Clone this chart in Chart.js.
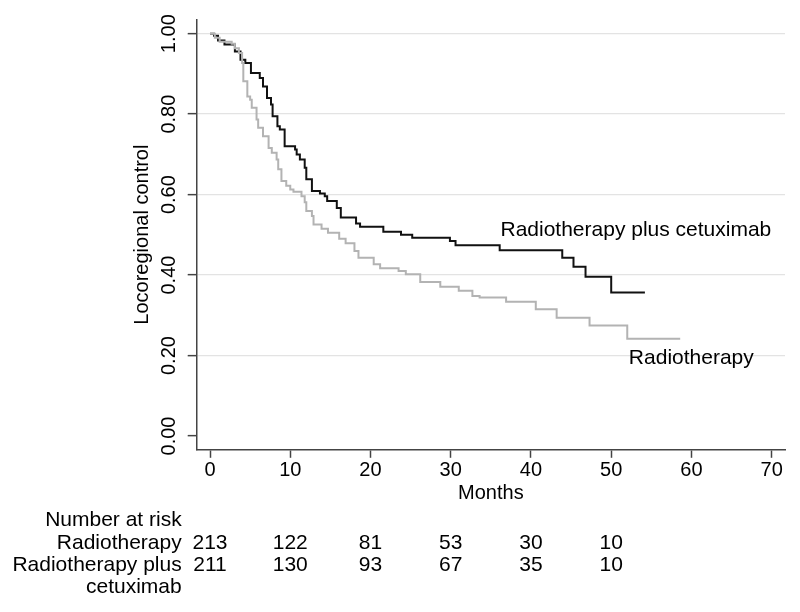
<!DOCTYPE html>
<html>
<head>
<meta charset="utf-8">
<script src="https://cdn.jsdelivr.net/npm/chart.js@4.4.1/dist/chart.umd.min.js"></script>
<style>
  html, body { margin: 0; padding: 0; background: #fff; }
  canvas { display: block; }
</style>
</head>
<body>
<canvas id="km" width="800" height="612"></canvas>
<script>
// Kaplan-Meier estimates (month, proportion)
const radioMonths = [0, 0.6, 1.2, 2.7, 3.1, 3.6, 4.0, 4.15, 4.65, 5.0, 5.2, 5.8, 6.0, 6.6, 7.3, 7.7,
                     8.3, 8.5, 8.9, 9.5, 10.0, 10.4, 11.4, 11.8, 12.0, 12.7, 12.9, 13.9, 14.7, 16.1,
                     16.9, 18.0, 18.5, 20.4, 21.2, 23.5, 24.4, 26.2, 28.7, 31.0, 32.7, 33.6, 36.9,
                     40.6, 43.2, 47.3, 52.0, 58.6];
const radioControl = [1.0, 0.99, 0.98, 0.975, 0.964, 0.952, 0.927, 0.882, 0.844, 0.836, 0.816, 0.787, 0.766, 0.745, 0.716, 0.704,
                      0.687, 0.663, 0.634, 0.622, 0.613, 0.607, 0.596, 0.581, 0.559, 0.547, 0.526, 0.515, 0.505, 0.49,
                      0.479, 0.46, 0.443, 0.427, 0.417, 0.41, 0.402, 0.383, 0.371, 0.361, 0.348, 0.344, 0.334,
                      0.315, 0.294, 0.275, 0.242, 0.242];

const cetuxMonths = [0, 0.5, 1.0, 1.8, 3.1, 3.8, 4.4, 5.1, 6.2, 6.6, 7.1, 7.6, 7.8, 8.4, 8.7, 9.3,
                     10.6, 10.8, 11.2, 11.8, 12.0, 12.7, 13.7, 14.3, 14.6, 15.8, 16.3, 18.2, 18.7,
                     21.6, 23.8, 25.2, 29.9, 30.6, 36.1, 43.9, 45.3, 46.8, 50.0, 54.2];
const cetuxControl = [1.0, 0.995, 0.983, 0.973, 0.956, 0.935, 0.927, 0.902, 0.89, 0.869, 0.84, 0.824, 0.795, 0.77, 0.762, 0.72,
                      0.712, 0.70, 0.687, 0.667, 0.638, 0.609, 0.603, 0.596, 0.584, 0.567, 0.543, 0.528, 0.52,
                      0.508, 0.50, 0.493, 0.485, 0.474, 0.462, 0.443, 0.421, 0.396, 0.357, 0.357];

const xTicks = [0, 10, 20, 30, 40, 50, 60, 70];
const yTicks = [0, 0.2, 0.4, 0.6, 0.8, 1.0];

// number at risk table
const riskMonths = [0, 10, 20, 30, 40, 50];
const riskRadio = [213, 122, 81, 53, 30, 10];
const riskCetux = [211, 130, 93, 67, 35, 10];

const FONT = '"Liberation Sans", Arial, Helvetica, sans-serif';
Chart.defaults.font.family = FONT;
Chart.defaults.font.size = 20;
Chart.defaults.color = '#000';

function toPoints(xs, ys) {
    return xs.map((x, i) => ({ x: x, y: ys[i] }));
}

const textPlugin = {
    id: 'kmText',
    afterDraw(chart) {
        const ctx = chart.ctx;
        const xs = chart.scales.x;
        const ys = chart.scales.y;
        ctx.save();
        ctx.font = '21px ' + FONT;
        ctx.fillStyle = '#000';

        // curve labels
        ctx.textAlign = 'left';
        ctx.textBaseline = 'alphabetic';
        ctx.fillText('Radiotherapy plus cetuximab', xs.getPixelForValue(36.2), ys.getPixelForValue(0.497));
        ctx.fillText('Radiotherapy', xs.getPixelForValue(52.2), ys.getPixelForValue(0.18));

        // number at risk
        ctx.textBaseline = 'middle';
        ctx.textAlign = 'right';
        const right = xs.left - 15;
        ctx.fillText('Number at risk', right, 520);
        ctx.fillText('Radiotherapy', right, 543);
        ctx.fillText('Radiotherapy plus', right, 565);
        ctx.fillText('cetuximab', right, 587);
        ctx.textAlign = 'center';
        riskMonths.forEach((m, i) => {
            const px = xs.getPixelForValue(m);
            ctx.fillText(String(riskRadio[i]), px, 543);
            ctx.fillText(String(riskCetux[i]), px, 565);
        });
        ctx.restore();
    }
};

new Chart(document.getElementById('km').getContext('2d'), {
    type: 'line',
    data: {
        datasets: [{
            label: 'Radiotherapy',
            data: toPoints(radioMonths, radioControl),
            borderColor: '#b3b3b3',
            borderWidth: 2,
            stepped: true,
            pointRadius: 0,
            fill: false
        }, {
            label: 'Radiotherapy plus cetuximab',
            data: toPoints(cetuxMonths, cetuxControl),
            borderColor: '#111111',
            borderWidth: 2,
            stepped: true,
            pointRadius: 0,
            fill: false
        }]
    },
    options: {
        responsive: false,
        animation: false,
        events: [],
        layout: { padding: { left: 0, right: 15, top: 20, bottom: 0 } },
        plugins: {
            legend: { display: false },
            tooltip: { enabled: false }
        },
        scales: {
            x: {
                type: 'linear',
                min: -1.66,
                max: 71.66,
                afterBuildTicks: (scale) => { scale.ticks = xTicks.map(v => ({ value: v })); },
                afterFit: (scale) => { scale.height = 612 - 449.3; },
                ticks: { padding: 1, maxRotation: 0, font: { size: 20 } },
                grid: { drawOnChartArea: false, tickLength: 8.5, tickColor: '#444', tickWidth: 1.5 },
                border: { color: '#444', width: 1.5 },
                title: { display: true, text: 'Months', font: { size: 20 }, padding: { top: 0, bottom: 107 } }
            },
            y: {
                min: -0.033,
                max: 1.034,
                afterBuildTicks: (scale) => { scale.ticks = yTicks.map(v => ({ value: v })); },
                afterFit: (scale) => { scale.width = 196.7; },
                ticks: {
                    minRotation: 90,
                    maxRotation: 90,
                    crossAlign: 'center',
                    padding: -1,
                    font: { size: 20 },
                    callback: (v) => Number(v).toFixed(2)
                },
                grid: {
                    color: (c) => (c.tick && c.tick.value === 0) ? 'rgba(0,0,0,0)' : '#e3e3e3',
                    lineWidth: 1.3,
                    tickLength: 9,
                    tickColor: '#444',
                    tickWidth: 1.5
                },
                border: { color: '#444', width: 1.5 },
                title: { display: true, text: 'Locoregional control', font: { size: 20 }, padding: { top: 130, bottom: 0 } }
            }
        }
    },
    plugins: [textPlugin]
});
</script>
</body>
</html>
